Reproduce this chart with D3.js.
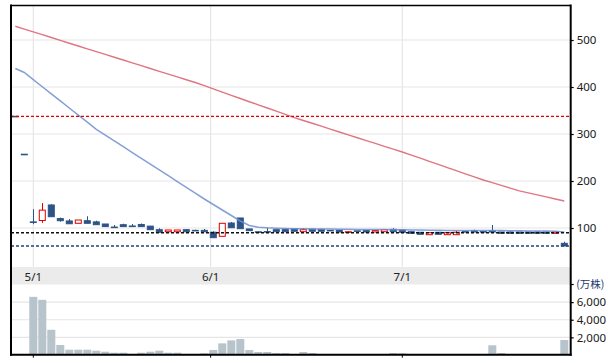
<!DOCTYPE html>
<html><head><meta charset="utf-8">
<script src="https://cdn.jsdelivr.net/npm/d3@7"></script>
<style>html,body{margin:0;padding:0;background:#fff;}svg{display:block;}</style>
</head><body>
<svg id="c" width="608" height="363"></svg>
<script>
// day index (-1 .. 60) of each trading session
const days = [-1,0,1,2,3,4,5,6,7,8,9,10,11,12,13,14,15,16,17,18,19,20,21,22,23,24,25,26,27,28,29,30,31,32,33,34,35,36,37,38,39,40,41,42,43,44,45,46,47,48,49,50,51,52,53,54,55,56,57,58,59,60];
const open  = [337.7,257,113,116,149,120,115,110,115.5,113,108.5,102,107,104.3,107.5,104,96.4,92,92,96.4,95,95,91,82.3,110.6,121.3,98,92,92.5,96.4,97.2,97.9,92.1,97.5,97,95,95.5,91,94,94.5,91.5,92.1,97.2,95.7,92.1,90.9,85.7,90.9,85.7,85.7,92.5,94.3,92.5,94.3,91.5,91.5,91.5,91.5,91.5,91.5,88.7,67.4];
const high  = [337.7,257,140,153,150.5,122,119,117,125,115.5,108.5,106.4,109,108.5,109.5,104.3,99.4,95.7,95.7,96.4,96.4,97.9,93,110,112.8,121.3,98,92,100.6,96.4,99.4,97.9,100,98,97,96,95.5,93,94,94.5,95,96.4,99.4,95.7,92.1,90.9,90,90.9,90,93.6,92.5,96.4,93,106.4,91.5,93,91.5,91.5,92.5,91.5,91.5,70.9];
const low   = [337.7,257,108,111,124,113.5,109,110,110,107,103,101,103,102.8,103,96.4,91,92,92,92,94,92,79.4,82.3,100.6,98.5,94,91,91.5,92.1,92.1,93,92.1,93,93,94.5,91.5,91,93.5,91.5,91.5,92.1,92.1,90.9,88.7,86.6,85.7,86.6,85.7,85.7,92.1,91.5,92.1,91.5,88.7,88.7,88.7,88.7,88.7,88.7,88.7,61.7];
const close = [337.7,257,112.5,138,124,115.5,109,117,110,107,103,101.5,103,104,103,96.4,91,95.7,95.7,92,94.3,92,79.4,110,100.6,98.5,94.3,91.5,92,92.1,92.1,93,96.4,93,93,94.5,91.5,92,93.5,91.5,94.5,96.4,92.1,90.9,88.7,86.6,90,86.6,90,90.9,92.1,91.5,92.1,91.5,88.7,88.7,88.7,88.7,88.7,88.7,91.5,61.7];
// volume, 万株
const volume = [0,0,6600,6260,2860,1130,600,600,600,490,375,260,260,30,260,375,490,260,260,30,30,190,570,1320,1660,1810,570,340,340,226,226,30,340,226,30,30,30,30,30,30,30,30,226,200,30,30,30,30,30,30,30,30,30,1100,226,30,30,30,30,30,30,1700];
// moving averages
const maShort = [439.4,430.9,415.8,400.6,385.5,370.4,355.3,340.2,325.1,310,297.7,285.3,273,260.6,248.3,236,223.6,211.3,198.9,186.6,174.3,161.7,150,138.3,126.6,114.9,105.3,101.7,100.4,99.6,98.9,98.5,98.3,98.1,97.9,97.7,97.4,97.2,97,96.8,96.8,96.6,96.4,96.2,95.7,95.5,95.3,95.1,94.9,94.7,94.7,94.7,94.7,94.7,94.5,94.3,94,93.8,93.6,93.4,93.2,91.5];
const maLong = [529.2,523.2,517.2,511.3,505.3,499.1,493.2,487.2,481.3,475.3,469.4,463.4,457.4,451.5,445.5,439.4,433.4,427.4,421.5,415.5,409.6,402.8,396,389.1,382.3,375.5,368.7,362.1,355.3,348.5,341.7,334.9,328.7,322.8,316.6,310.4,304.3,298.3,292.1,286,280,273.8,267.9,261.7,255.1,248.5,241.9,235.3,228.5,221.9,215.3,208.7,202.1,196.4,190.6,184.7,178.9,174.7,170.4,166.2,161.7,157.4];
// reference price lines
const refLines = [337.7, 90, 61.7];
const refColors = ["#e00000", "#111111", "#1f4580"];
// axis ticks
const priceTicks = [100,200,300,400,500];
const volTicks = [2000,4000,6000];
const volUnit = "(万株)";
const dateTickPos = [1, 20.7, 42];
const dateTickLabels = ["5/1","6/1","7/1"];

const svg = d3.select("#c");
const L = 11, R = 570.7, T = 5.5, B = 354.7;
const x = d3.scaleLinear().domain([-1, 60]).range([15.3, 564.3]);
const y = d3.scaleLinear().domain([17, 574.5]).range([267, 5]);
const yv = d3.scaleLinear().domain([0, 8000]).range([355, 284.5]);
const font = "'Noto Sans', 'DejaVu Sans', sans-serif";

svg.append("defs").append("clipPath").attr("id","pc")
  .append("rect").attr("x", L).attr("y", T).attr("width", R-L).attr("height", 267-T);

const g = svg.append("g");
// gridlines
g.selectAll(".hg").data(priceTicks).join("line")
  .attr("x1", L).attr("x2", R).attr("y1", d => y(d)).attr("y2", d => y(d))
  .attr("stroke", "#e6e6e6").attr("stroke-width", 1.2);
g.selectAll(".vg").data(volTicks).join("line")
  .attr("x1", L).attr("x2", R).attr("y1", d => yv(d)).attr("y2", d => yv(d))
  .attr("stroke", "#e6e6e6").attr("stroke-width", 1.2);
g.selectAll(".xg").data(dateTickPos).join("line")
  .attr("x1", d => x(d)).attr("x2", d => x(d)).attr("y1", T).attr("y2", 267)
  .attr("stroke", "#e6e6e6").attr("stroke-width", 1.2);

// date band
g.append("rect").attr("x", L).attr("y", 267).attr("width", R-L).attr("height", 17.5).attr("fill", "#ebebeb");
g.selectAll(".dl").data(dateTickLabels).join("text")
  .attr("x", (d,i) => x(dateTickPos[i])).attr("y", 280.8)
  .attr("text-anchor", "middle").attr("font-family", font).attr("font-size", 11.5)
  .attr("fill", "#222").text(d => d);

// volume bars
g.selectAll(".vb").data(days).join("rect")
  .attr("x", (d) => x(d) - 4).attr("width", 8)
  .attr("y", (d,i) => yv(volume[i])).attr("height", (d,i) => yv(0) - yv(volume[i]))
  .attr("fill", "#b8c4cc");

// candles
const cg = g.append("g").attr("clip-path", "url(#pc)");
const isUp = i => close[i] > open[i];
const col = i => isUp(i) ? "#e00000" : "#2e5486";
cg.selectAll(".wk").data(days).join("line")
  .attr("x1", d => Math.round(x(d)) + 0.5).attr("x2", d => Math.round(x(d)) + 0.5)
  .attr("y1", (d,i) => y(high[i])).attr("y2", (d,i) => y(low[i]))
  .attr("stroke", (d,i) => col(i)).attr("stroke-width", 1);
cg.selectAll(".bd").data(days).join("rect")
  .attr("x", d => x(d) - 3)
  .attr("width", 6)
  .attr("y", (d,i) => y(Math.max(open[i], close[i])))
  .attr("height", (d,i) => Math.max(0.6, Math.abs(y(open[i]) - y(close[i]))))
  .attr("fill", (d,i) => isUp(i) ? "#fff" : col(i))
  .attr("stroke", (d,i) => col(i)).attr("stroke-width", 1);

// moving averages
const line = arr => d3.line().x((d) => x(d)).y((d,i) => y(arr[i]))(days);
cg.append("path").attr("d", line(maLong)).attr("fill", "none")
  .attr("stroke", "#dc6676").attr("stroke-width", 1.4).attr("opacity", 0.9);
cg.append("path").attr("d", line(maShort)).attr("fill", "none")
  .attr("stroke", "#6f8fd0").attr("stroke-width", 1.5).attr("opacity", 0.85);

// reference dashed lines
g.selectAll(".rl").data(refLines).join("line")
  .attr("x1", L).attr("x2", R).attr("y1", d => y(d)).attr("y2", d => y(d))
  .attr("stroke", (d,i) => refColors[i]).attr("stroke-width", (d,i) => i === 0 ? 1.2 : 1.5)
  .attr("stroke-dasharray", "3,2");

// frame
g.append("line").attr("x1", L).attr("x2", L).attr("y1", T-1).attr("y2", B+1).attr("stroke", "#000").attr("stroke-width", 2);
g.append("line").attr("x1", L).attr("x2", R).attr("y1", T).attr("y2", T).attr("stroke", "#000").attr("stroke-width", 1.6);
g.append("line").attr("x1", L-1).attr("x2", R+1).attr("y1", B).attr("y2", B).attr("stroke", "#000").attr("stroke-width", 2);

// right axes
const pAxis = d3.axisRight(y).tickValues(priceTicks).tickFormat(d3.format("d")).tickSize(3).tickPadding(3);
const ax = svg.append("g").attr("transform", `translate(${R},0)`).call(pAxis);
const vAxis = d3.axisRight(yv).tickValues(volTicks).tickFormat(d3.format(",")).tickSize(3).tickPadding(3);
const ax2 = svg.append("g").attr("transform", `translate(${R},0)`).call(vAxis);
[ax, ax2].forEach(a => {
  a.select(".domain").remove();
  a.selectAll("line").attr("stroke", "#000").attr("stroke-width", 1.2);
  a.selectAll("text").attr("font-family", font).attr("font-size", 11.5).attr("fill", "#1a1a1a");
});
svg.append("line").attr("x1", R).attr("x2", R).attr("y1", T-1).attr("y2", B+1).attr("stroke", "#000").attr("stroke-width", 2);
svg.append("line").attr("x1", R).attr("x2", R+3).attr("y1", yv(8000)).attr("y2", yv(8000)).attr("stroke", "#000").attr("stroke-width", 1.2);
svg.append("text").attr("x", R + 5.5).attr("y", yv(8000)).attr("dy", "0.35em")
  .attr("font-family", "'Noto Sans CJK JP', 'Noto Sans', sans-serif").attr("font-size", 10.5)
  .attr("fill", "#1a3a6a").text(volUnit);

// bottom ticks
svg.selectAll(".bt").data(dateTickPos).join("line")
  .attr("x1", d => x(d)).attr("x2", d => x(d)).attr("y1", B).attr("y2", B + 3)
  .attr("stroke", "#000").attr("stroke-width", 1);
</script>
</body></html>
